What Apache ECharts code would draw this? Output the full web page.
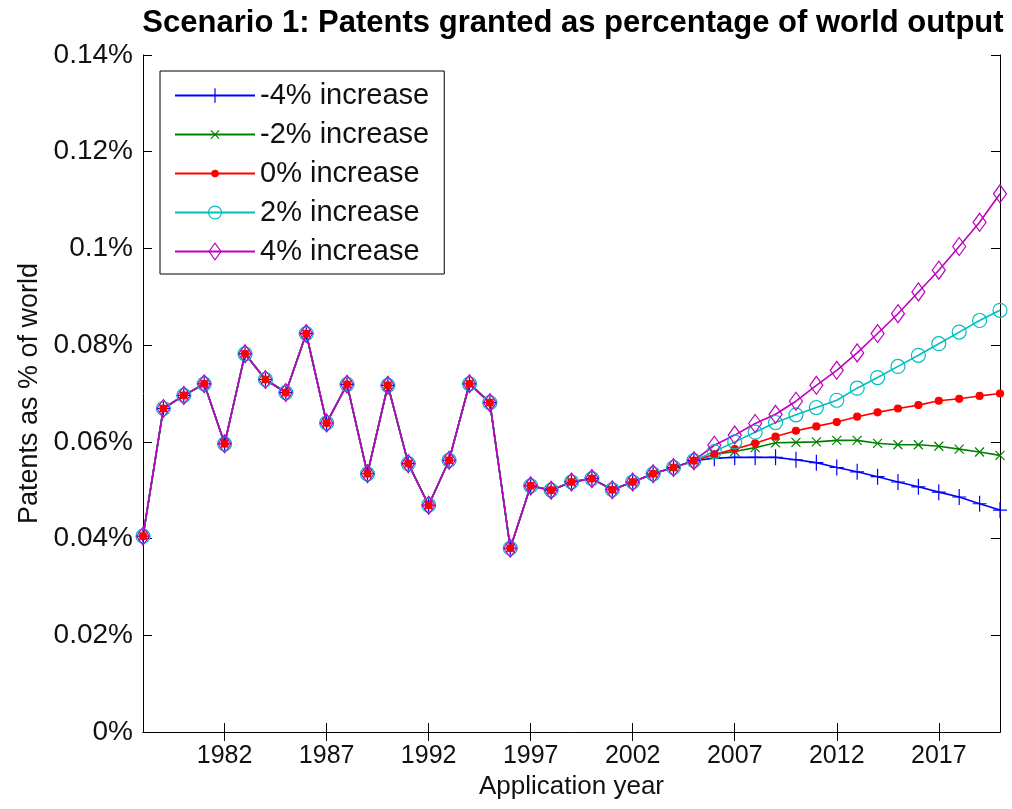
<!DOCTYPE html>
<html>
<head>
<meta charset="utf-8">
<script src="https://cdn.jsdelivr.net/npm/echarts@6/dist/echarts.min.js"></script>
<style>
html,body{margin:0;padding:0;background:#fff;}
#chart{width:1012px;height:809px;}
</style>
</head>
<body>
<div id="chart"></div>
<script>
// ---- data (values are in percent of world output) ----
const years = [];
for (let y = 1978; y <= 2020; y++) years.push(String(y));

const history = [0.0405, 0.0669, 0.0696, 0.0720, 0.0596, 0.0782, 0.0729, 0.0702, 0.0824, 0.0639,
  0.0719, 0.0534, 0.0717, 0.0555, 0.0469, 0.0562, 0.0720, 0.0681, 0.0380, 0.0509,
  0.0500, 0.0517, 0.0524, 0.0501, 0.0517, 0.0534, 0.0547, 0.0561];

const projMinus4 = [0.0566, 0.0568, 0.0568, 0.0568, 0.0563, 0.0557, 0.0547, 0.0538, 0.0528, 0.0517, 0.0507, 0.0496, 0.0486, 0.0472, 0.0459];
const projMinus2 = [0.0574, 0.0580, 0.0588, 0.0598, 0.0599, 0.0600, 0.0603, 0.0603, 0.0597, 0.0594, 0.0594, 0.0591, 0.0585, 0.0579, 0.0572];
const projZero   = [0.0574, 0.0585, 0.0597, 0.0611, 0.0623, 0.0632, 0.0641, 0.0652, 0.0661, 0.0669, 0.0676, 0.0685, 0.0689, 0.0695, 0.0700];
const projPlus2  = [0.0580, 0.0600, 0.0620, 0.0640, 0.0656, 0.0671, 0.0686, 0.0711, 0.0733, 0.0756, 0.0779, 0.0803, 0.0827, 0.0851, 0.0872];
const projPlus4  = [0.0593, 0.0614, 0.0638, 0.0657, 0.0684, 0.0717, 0.0748, 0.0784, 0.0824, 0.0865, 0.0910, 0.0955, 0.1004, 0.1054, 0.1113];

const seriesNames = ['-4% increase', '-2% increase', '0% increase', '2% increase', '4% increase'];
const yTicks = [0, 0.02, 0.04, 0.06, 0.08, 0.1, 0.12, 0.14];

// ---- styles ----
const colors = ['#0000ff', '#008000', '#ff0000', '#00bfbf', '#bf00bf'];
// every marker path lives in a 20x20 box so that relative sizes are kept
const box = 'M0,0L0,0M20,20L20,20';
const symbols = [
  'path://' + box + 'M10,2L10,18M3,10L17,10',
  'path://' + box + 'M5.5,5.5L14.5,14.5M14.5,5.5L5.5,14.5',
  'path://' + box + 'M6.5,10A3.5,3.5,0,1,1,13.5,10A3.5,3.5,0,1,1,6.5,10Z',
  'path://' + box + 'M3,10A7,7,0,1,1,17,10A7,7,0,1,1,3,10Z',
  'path://' + box + 'M10,1L16.5,10L10,19L3.5,10Z'
];
const fills = ['rgba(0,0,0,0)', 'rgba(0,0,0,0)', '#ff0000', 'rgba(0,0,0,0)', 'rgba(0,0,0,0)'];
const projections = [projMinus4, projMinus2, projZero, projPlus2, projPlus4];

const series = seriesNames.map((name, i) => ({
  name: name,
  type: 'line',
  data: history.concat(projections[i]),
  symbol: symbols[i],
  symbolSize: 20,
  showAllSymbol: true,
  lineStyle: { color: colors[i], width: 1.6 },
  itemStyle: { color: fills[i], borderColor: colors[i], borderWidth: 1.2 },
  emphasis: { disabled: true },
  clip: false
}));

const font = 'Liberation Sans, Arial, Helvetica, sans-serif';
const isTick = (idx, val) => (Number(val) - 1982) % 5 === 0;

const chart = echarts.init(document.getElementById('chart'), null, { renderer: 'canvas' });
chart.setOption({
  animation: false,
  backgroundColor: '#ffffff',
  title: {
    text: 'Scenario 1: Patents granted as percentage of world output',
    left: 568, top: 3, textAlign: 'center',
    textStyle: { fontFamily: font, fontSize: 31, fontWeight: 'bold', color: '#000' }
  },
  grid: { left: 143, right: 12, top: 55, bottom: 77 },
  legend: {
    orient: 'vertical', left: 160, top: 71,
    data: seriesNames,
    itemWidth: 80, itemHeight: 23, itemGap: 10,
    padding: [10, 15, 8, 14],
    borderColor: '#000', borderWidth: 1, backgroundColor: '#fff',
    itemStyle: { borderWidth: 1.2 },
    textStyle: { fontFamily: font, fontSize: 29, color: '#111' }
  },
  xAxis: [{
    type: 'category', data: years, boundaryGap: false, position: 'bottom',
    name: 'Application year', nameLocation: 'middle', nameGap: 42,
    nameTextStyle: { fontFamily: font, fontSize: 26, color: '#111' },
    axisLine: { lineStyle: { color: '#000', width: 1 } },
    axisTick: { inside: true, length: 9, interval: isTick, lineStyle: { color: '#000' } },
    axisLabel: { interval: isTick, fontFamily: font, fontSize: 25, color: '#111', margin: 12 },
    splitLine: { show: false }
  }, {
    type: 'category', data: years, boundaryGap: false, position: 'top',
    axisLine: { lineStyle: { color: '#000', width: 1 } },
    axisTick: { inside: true, length: 9, interval: isTick, lineStyle: { color: '#000' } },
    axisLabel: { show: false },
    splitLine: { show: false }
  }],
  yAxis: [{
    type: 'value', min: 0, max: 0.14, interval: 0.02, position: 'left',
    name: 'Patents as % of world', nameLocation: 'middle', nameGap: 100,
    nameTextStyle: { fontFamily: font, fontSize: 27, color: '#111' },
    axisLine: { show: true, lineStyle: { color: '#000', width: 1 } },
    axisTick: { show: true, inside: true, length: 9, lineStyle: { color: '#000' } },
    axisLabel: {
      fontFamily: font, fontSize: 28, color: '#111', margin: 10,
      formatter: v => {
        const t = yTicks.find(k => Math.abs(k - v) < 1e-9);
        return (t !== undefined ? parseFloat(t.toFixed(2)) : parseFloat(v.toFixed(2))) + '%';
      }
    },
    splitLine: { show: false }
  }, {
    type: 'value', min: 0, max: 0.14, interval: 0.02, position: 'right',
    axisLine: { show: true, lineStyle: { color: '#000', width: 1 } },
    axisTick: { show: true, inside: true, length: 9, lineStyle: { color: '#000' } },
    axisLabel: { show: false },
    splitLine: { show: false }
  }],
  series: series
});
</script>
</body>
</html>
